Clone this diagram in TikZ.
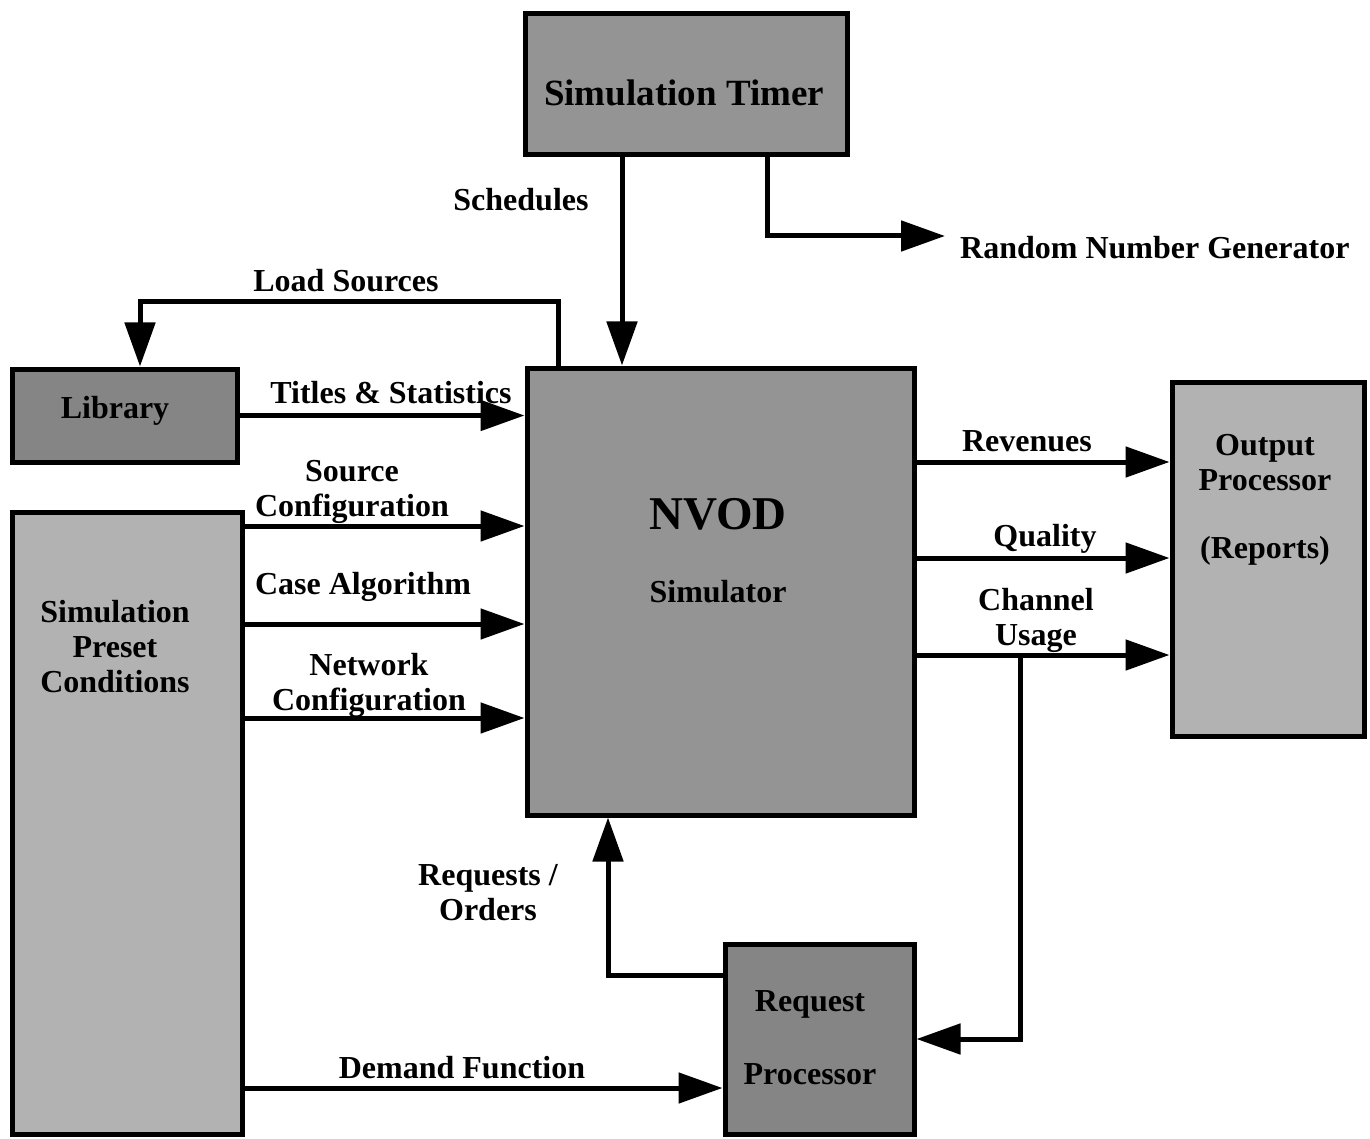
\documentclass[tikz,border=0pt]{standalone}
\usepackage{fontspec}
\setmainfont{Liberation Serif}
\usetikzlibrary{arrows.meta}
\tikzset{
  box/.style={draw=black, line width=5pt, inner sep=0pt, anchor=center},
  darkbox/.style={box, fill=black!48},
  midbox/.style={box, fill=black!42},
  lightbox/.style={box, fill=black!30},
  lbl/.style={font=\bfseries\fontsize{32}{35}\selectfont, align=center, inner sep=0pt},
  arr/.style={line width=5pt, -{Triangle[length=44pt,width=30pt]}},
  conn/.style={line width=5pt}
}
\begin{document}
\begin{tikzpicture}[x=1pt,y=-1pt]
\useasboundingbox (0,0) rectangle (1370,1139);
% boxes
\node[midbox, minimum width=322pt, minimum height=141pt] (timer) at (686,84.5) {};
\node[midbox, minimum width=387pt, minimum height=447pt] (nvod) at (720.5,591.5) {};
\node[darkbox, minimum width=225pt, minimum height=93pt] (lib) at (124.5,415.5) {};
\node[lightbox, minimum width=230pt, minimum height=622pt] (preset) at (127,823) {};
\node[lightbox, minimum width=192pt, minimum height=354pt] (out) at (1268,559) {};
\node[darkbox, minimum width=189pt, minimum height=190pt] (req) at (819.5,1039) {};
% box texts
\node[lbl, font=\bfseries\fontsize{37}{40}\selectfont] (timertxt) at (684,93) {Simulation Timer};
\node[lbl, font=\bfseries\fontsize{47}{50}\selectfont] (nvodtxt) at (718,514) {NVOD};
\node[lbl] (simtxt) at (718,592) {Simulator};
\node[lbl] (libtxt) at (115,411) {Library};
\node[lbl] (presettxt) at (115,647) {Simulation\\Preset\\Conditions};
\node[lbl] (outtxt) at (1265,463) {Output\\Processor};
\node[lbl] (reptxt) at (1265,551) {(Reports)};
\node[lbl] (reqtxt) at (810,1004) {Request};
\node[lbl] (proctxt) at (810,1074) {Processor};
% helper coordinates
\coordinate (x622) at (622,0);
\coordinate (x767) at (767,0);
\coordinate (x558) at (558,0);
\coordinate (x140) at (140,0);
\coordinate (x608) at (608,0);
\coordinate (y526) at (0,526);
\coordinate (y624) at (0,624);
\coordinate (y718) at (0,718);
\coordinate (y1088) at (0,1088);
\coordinate (y462) at (0,462);
\coordinate (y558) at (0,558);
\coordinate (y655) at (0,655);
\coordinate (y975) at (0,975);
\coordinate (rngend) at (945,236);
\coordinate (chj) at (1020,655);
% connectors
\draw[arr] (timer.south -| x622) -- (nvod.north -| x622);
\draw[arr] (timer.south -| x767) |- (rngend);
\draw[arr] (nvod.north -| x558) -- ++(0,-64) -| (lib.north -| x140);
\draw[arr] (lib.east) -- (lib.east -| nvod.west);
\draw[arr] (preset.east |- y526) -- (nvod.west |- y526);
\draw[arr] (preset.east |- y624) -- (nvod.west |- y624);
\draw[arr] (preset.east |- y718) -- (nvod.west |- y718);
\draw[arr] (preset.east |- y1088) -- (req.west |- y1088);
\draw[arr] (nvod.east |- y462) -- (out.west |- y462);
\draw[arr] (nvod.east |- y558) -- (out.west |- y558);
\draw[arr] (nvod.east |- y655) -- (out.west |- y655);
\draw[arr] (chj) |- (req.east);
\draw[arr] (req.west |- y975) -| (nvod.south -| x608);
% connector labels
\node[lbl] (lsched) at (521,200) {Schedules};
\node[lbl, anchor=west] (lrng) at (960,248) {Random Number Generator};
\node[lbl] (lload) at (346,281) {Load Sources};
\node[lbl] (ltitles) at (391,393) {Titles \& Statistics};
\node[lbl] (lsrc) at (352,492) {Source\\Configuration};
\node[lbl] (lcase) at (363,587) {Case Algorithm};
\node[lbl] (lnet) at (369,685) {Network\\Configuration};
\node[lbl] (ldemand) at (462,1068) {Demand Function};
\node[lbl] (lrev) at (1027,441) {Revenues};
\node[lbl] (lqual) at (1045,539) {Quality};
\node[lbl] (lchan) at (1036,620) {Channel\\Usage};
\node[lbl] (lreq) at (488,893) {Requests /\\Orders};
\end{tikzpicture}
\end{document}
